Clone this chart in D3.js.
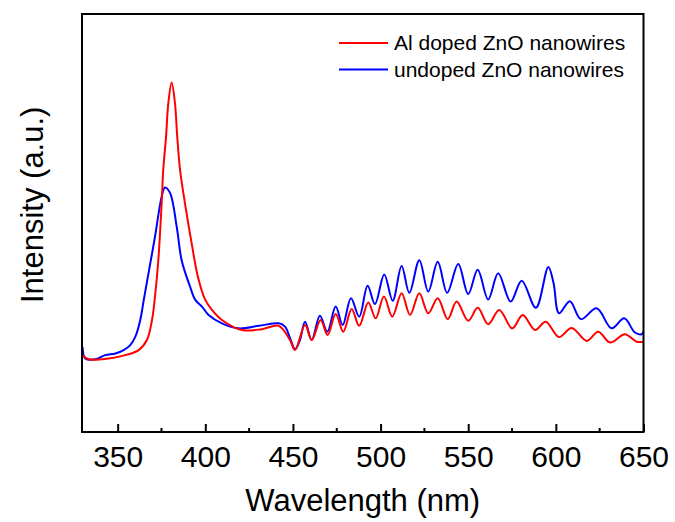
<!DOCTYPE html>
<meta charset="utf-8">
<style>
body { margin: 0; background: #fff; }
svg text { font-family: "Liberation Sans", Arial, sans-serif; fill: #000; }
.curve { fill: none; stroke-width: 2px; stroke-linejoin: round; }
</style>
<svg width="675" height="522"></svg>
<script src="https://d3js.org/d3.v7.min.js"></script>
<script>

// wavelength (nm) / intensity (a.u.)
var alWave = [330.0, 333.5, 344.9, 354.4, 362.0, 366.7, 369.6, 371.1, 373.2, 375.1, 376.0, 377.6, 378.9, 380.8,
  382.7, 384.0, 385.6, 388.4, 392.2, 395.8, 400.0, 403.8, 409.5, 420.9, 432.3, 441.9, 448.3, 451.2, 456.9,
  460.7, 465.8, 469.8, 474.4, 478.7, 483.5, 487.8, 493.0, 497.2, 501.9, 506.7, 512.0, 516.8, 522.1, 527.2,
  532.6, 538.3, 543.4, 550.0, 555.4, 561.4, 567.7, 575.1, 581.1, 588.1, 594.2, 601.8, 609.0, 617.6, 624.2,
  630.9, 639.4, 646.1, 650.0];
var alInt = [18.4, 17.4, 17.6, 18.4, 19.6, 22.0, 26.8, 31.6, 41.1, 54.8, 62.7, 70.6, 78.6, 83.6,
  78.6, 70.6, 62.7, 54.7, 45.2, 37.1, 31.6, 29.2, 26.8, 24.4, 24.6, 25.4, 22.0, 19.6, 25.6,
  22.0, 26.8, 23.2, 28.2, 24.0, 29.4, 25.4, 31.0, 27.2, 32.4, 27.6, 33.2, 28.0, 33.2, 28.4,
  32.0, 27.0, 31.2, 26.6, 29.7, 25.8, 29.2, 24.8, 28.0, 24.4, 26.4, 22.7, 24.9, 21.8, 24.0,
  21.4, 23.4, 21.6, 21.6];

var unWave = [330.0, 331.5, 337.2, 342.9, 348.7, 353.4, 357.2, 360.1, 362.9, 364.9, 367.3, 371.3, 375.1, 377.0,
  379.9, 383.7, 386.5, 391.3, 394.3, 398.1, 401.9, 409.5, 419.0, 430.5, 441.9, 445.5, 448.3, 451.2, 454.0,
  456.9, 460.7, 465.4, 469.6, 474.4, 478.4, 483.1, 487.8, 492.6, 496.8, 502.1, 506.9, 512.0, 516.4, 522.1,
  527.2, 532.6, 538.0, 544.3, 550.0, 555.4, 561.4, 567.1, 574.2, 580.5, 588.6, 595.7, 598.7, 601.8, 608.0,
  614.3, 623.3, 631.8, 639.0, 645.1, 648.9, 650.0];
var unInt = [20.3, 17.6, 17.4, 18.4, 18.8, 19.6, 20.8, 22.8, 26.8, 31.6, 37.3, 46.7, 56.3, 58.5,
  57.2, 49.1, 41.1, 34.8, 31.6, 30.0, 28.0, 26.0, 24.8, 25.4, 26.0, 25.2, 22.5, 19.8, 22.0,
  26.4, 22.0, 27.8, 24.0, 30.0, 25.6, 32.0, 27.6, 35.0, 30.6, 37.7, 31.4, 39.7, 33.3, 41.1,
  33.6, 40.7, 33.3, 40.2, 33.0, 38.8, 31.7, 38.0, 31.2, 36.2, 29.7, 39.5, 35.6, 28.4, 31.3,
  27.0, 29.6, 24.8, 27.2, 23.8, 23.4, 24.0];

var seriesNames = ["Al doped ZnO nanowires", "undoped ZnO nanowires"];
var seriesColors = ["#ff0000", "#0000ff"];
var xTicks = [350, 400, 450, 500, 550, 600, 650];
var xMinor = [375, 425, 475, 525, 575, 625];

var svg = d3.select("svg");
var pLeft = 82.6, pRight = 643.5, pTop = 14, pBottom = 432;

var x = d3.scaleLinear().domain([330, 650]).range([pLeft, pRight]);
var y = d3.scaleLinear().domain([0, 100]).range([pBottom, pTop]);

var line = d3.line()
    .x(d => x(d[0]))
    .y(d => y(d[1]))
    .curve(d3.curveCatmullRom.alpha(0.5));

var series = [
  d3.zip(alWave, alInt),
  d3.zip(unWave, unInt)
];

var plot = svg.append("g");
plot.append("clipPath").attr("id", "clip")
  .append("rect").attr("x", pLeft).attr("y", pTop).attr("width", pRight - pLeft).attr("height", pBottom - pTop);

// undoped first, red on top where they meet
plot.append("path").datum(series[1]).attr("class", "curve")
    .attr("clip-path", "url(#clip)")
    .attr("stroke", seriesColors[1]).attr("d", line);
plot.append("path").datum(series[0]).attr("class", "curve")
    .attr("clip-path", "url(#clip)")
    .attr("stroke", seriesColors[0]).attr("d", line);

// bottom axis, ticks pointing in
var xAxis = d3.axisBottom(x).tickValues(xTicks).tickSizeInner(-8).tickSizeOuter(0).tickPadding(14);
var gx = svg.append("g").attr("transform", "translate(0," + pBottom + ")").call(xAxis);
gx.select(".domain").remove();
gx.attr("font-family", null).attr("font-size", null);
gx.selectAll(".tick line").attr("stroke", "#000").attr("stroke-width", 2);
gx.selectAll(".tick text").style("font-size", "30px");

svg.append("g").selectAll("line").data(xMinor).enter().append("line")
    .attr("x1", d => x(d)).attr("x2", d => x(d))
    .attr("y1", pBottom).attr("y2", pBottom - 4)
    .attr("stroke", "#000").attr("stroke-width", 2);

// frame
svg.append("rect")
    .attr("x", 82).attr("y", pTop).attr("width", pRight - 82).attr("height", pBottom - pTop)
    .attr("fill", "none").attr("stroke", "#000").attr("stroke-width", 2);

// axis titles
svg.append("text")
    .attr("x", (82 + pRight) / 2).attr("y", 511)
    .attr("text-anchor", "middle").style("font-size", "31px")
    .text("Wavelength (nm)");

svg.append("text")
    .attr("transform", "translate(43,303) rotate(-90)")
    .attr("text-anchor", "start").style("font-size", "31px")
    .text("Intensity (a.u.)");

// legend
var legend = svg.append("g").selectAll("g").data(seriesNames).enter().append("g")
    .attr("transform", (d, i) => "translate(339," + (43 + i * 26.5) + ")");
legend.append("line").attr("x1", 0).attr("x2", 49)
    .attr("stroke", (d, i) => seriesColors[i]).attr("stroke-width", 2);
legend.append("text").attr("x", 55).attr("y", 7.3)
    .style("font-size", "21px").text(d => d);

</script>
